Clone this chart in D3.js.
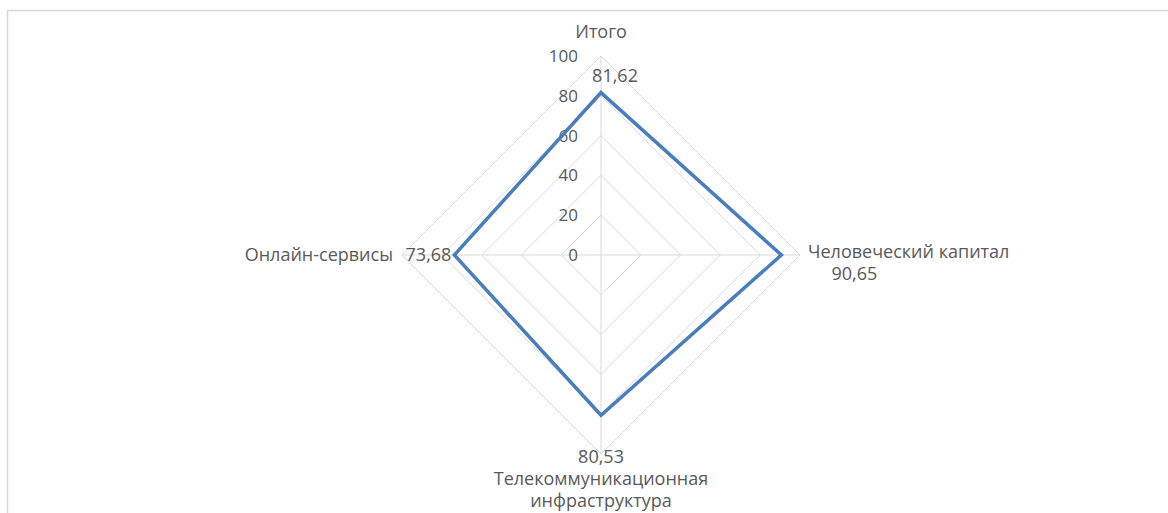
<!DOCTYPE html>
<html>
<head>
<meta charset="utf-8">
<script src="https://cdn.jsdelivr.net/npm/d3@7"></script>
<style>
  body { margin: 0; background: #fff; }
  text { font-family: "Open Sans", sans-serif; fill: #595959; }
</style>
</head>
<body>
<script>
// categories and values
var categories = ["Итого", "Человеческий капитал", "Телекоммуникационная инфраструктура", "Онлайн-сервисы"];
var values = [81.62, 90.65, 80.53, 73.68];
var valueLabels = ["81,62", "90,65", "80,53", "73,68"];
var ticks = [0, 20, 40, 60, 80, 100];

var svgWidth = 1168, svgHeight = 513;
var cx = 601, cy = 255, radius = 199;

var svg = d3.select('body').append('svg').attr('width', svgWidth).attr('height', svgHeight);

// chart border
svg.append('rect').attr('x', 7.5).attr('y', 10.5).attr('width', 1170).attr('height', 520)
    .attr('fill', 'none').attr('stroke', '#d9d9d9').attr('stroke-width', 1.5);

var g = svg.append('g').attr('transform', `translate(${cx},${cy})`);

var rScale = d3.scaleLinear().domain([0, 100]).range([0, radius]);
var angle = i => i * Math.PI / 2; // starting at top, clockwise

function point(i, v) {
    var a = angle(i);
    return [rScale(v) * Math.sin(a), -rScale(v) * Math.cos(a)];
}

var line = d3.line().curve(d3.curveLinearClosed);

// grid rings
g.append('g').selectAll('path')
    .data(ticks)
    .enter()
    .append('path')
    .attr('d', t => line(categories.map((c, i) => point(i, t))))
    .attr('fill', 'none')
    .attr('stroke', '#d9d9d9')
    .attr('stroke-width', 1);

// spokes
g.append('g').selectAll('line')
    .data(categories)
    .enter()
    .append('line')
    .attr('x1', 0).attr('y1', 0)
    .attr('x2', (c, i) => point(i, 100)[0])
    .attr('y2', (c, i) => point(i, 100)[1])
    .attr('stroke', '#d9d9d9')
    .attr('stroke-width', 1);

// tick labels
g.append('g').selectAll('text')
    .data(ticks)
    .enter()
    .append('text')
    .attr('x', -23)
    .attr('y', t => -rScale(t))
    .attr('dy', '0.35em')
    .attr('text-anchor', 'end')
    .style('font-size', '17px')
    .text(t => t);

// data series
g.append('path')
    .attr('d', line(values.map((v, i) => point(i, v))))
    .attr('fill', 'none')
    .attr('stroke', '#4a7ebb')
    .attr('stroke-width', 3.5)
    .attr('stroke-linejoin', 'miter');

// category labels
var catPos = [
    {x: 0, y: -223, anchor: 'middle', lines: ["Итого"]},
    {x: 207, y: -3, anchor: 'start', lines: ["Человеческий капитал"]},
    {x: 0, y: 224, anchor: 'middle', lines: ["Телекоммуникационная", "инфраструктура"]},
    {x: -208, y: 0, anchor: 'end', lines: ["Онлайн-сервисы"]}
];
categories.forEach((c, i) => {
    var p = catPos[i];
    var t = g.append('text')
        .attr('x', p.x).attr('y', p.y)
        .attr('text-anchor', p.anchor)
        .style('font-size', '18px');
    p.lines.forEach((l, k) => {
        t.append('tspan').attr('x', p.x).attr('dy', k === 0 ? '0.35em' : '1.22em').text(l);
    });
});

// value labels
var valPos = [
    {dx: 14, dy: -17, anchor: 'middle'},
    {dx: 73, dy: 19, anchor: 'middle'},
    {dx: 0, dy: 41, anchor: 'middle'},
    {dx: -3, dy: 0, anchor: 'end'}
];
g.append('g').selectAll('text')
    .data(values)
    .enter()
    .append('text')
    .attr('x', (v, i) => point(i, v)[0] + valPos[i].dx)
    .attr('y', (v, i) => point(i, v)[1] + valPos[i].dy)
    .attr('dy', '0.35em')
    .attr('text-anchor', (v, i) => valPos[i].anchor)
    .style('font-size', '18px')
    .text((v, i) => valueLabels[i]);
</script>
</body>
</html>
